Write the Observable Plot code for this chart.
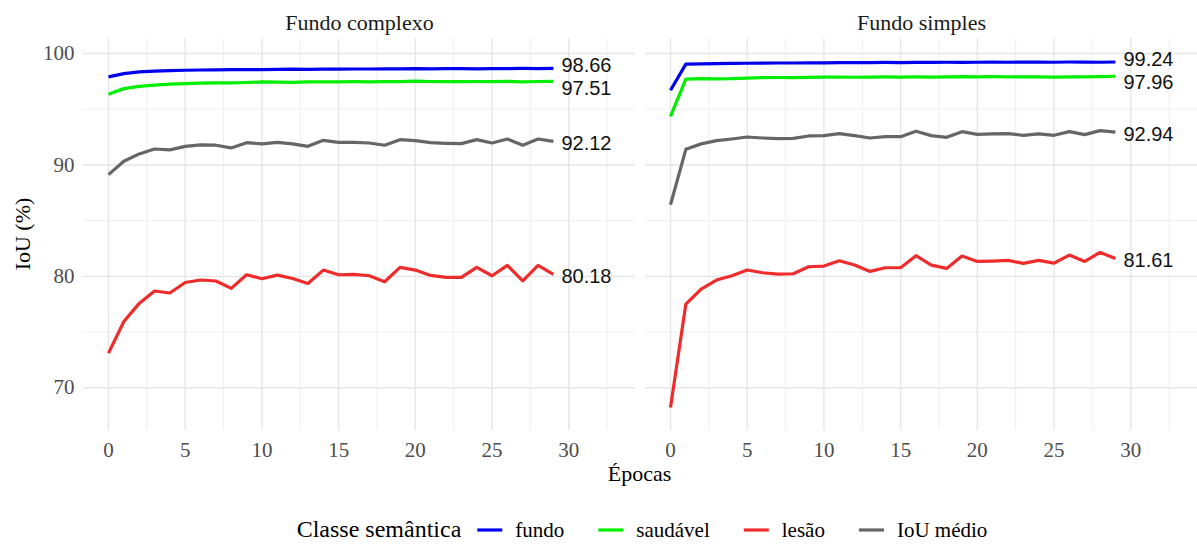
<!DOCTYPE html>
<html>
<head>
<meta charset="utf-8">
<script src="https://cdn.jsdelivr.net/npm/d3@7"></script>
<script src="https://cdn.jsdelivr.net/npm/@observablehq/plot@0.6"></script>
<style>
  html, body { margin: 0; padding: 0; background: #ffffff; }
  #wrap { position: relative; width: 1197px; height: 546px; overflow: hidden; }
  #chart svg, #legend svg { display: block; }
</style>
</head>
<body>
<div id="wrap">
  <div id="chart"></div>
  <div id="legend"></div>
</div>
<script>
// ---- Data ----
const panels = ["Fundo complexo", "Fundo simples"];
const classes = ["fundo", "saudável", "lesão", "IoU médio"];
const classColors = ["#0000ee", "#00ee00", "#ee2c2c", "#666666"];
const legendTitle = "Classe semântica";
const xTitle = "Épocas";
const yTitle = "IoU (%)";
const epochs = [0,1,2,3,4,5,6,7,8,9,10,11,12,13,14,15,16,17,18,19,20,21,22,23,24,25,26,27,28,29];

const complexoFundo = [97.90,98.20,98.35,98.42,98.46,98.50,98.52,98.53,98.55,98.55,98.56,98.57,98.60,98.58,98.60,98.60,98.61,98.61,98.62,98.63,98.65,98.62,98.64,98.65,98.63,98.64,98.65,98.66,98.65,98.66];
const complexoSaudavel = [96.35,96.85,97.05,97.17,97.25,97.30,97.35,97.37,97.36,97.40,97.45,97.43,97.42,97.45,97.46,97.45,97.47,97.46,97.48,97.47,97.52,97.49,97.48,97.48,97.49,97.47,97.50,97.46,97.49,97.51];
const complexoLesao = [73.11,75.95,77.57,78.68,78.50,79.45,79.67,79.58,78.92,80.14,79.78,80.11,79.81,79.36,80.56,80.14,80.17,80.05,79.51,80.80,80.56,80.08,79.90,79.90,80.80,80.05,80.98,79.60,80.98,80.18];
const complexoMedio = [89.13,90.33,90.99,91.43,91.35,91.67,91.80,91.77,91.53,92.00,91.89,92.03,91.89,91.67,92.21,92.03,92.03,91.97,91.77,92.27,92.18,92.00,91.94,91.91,92.27,91.97,92.33,91.77,92.33,92.12];

const simplesFundo = [96.70,99.05,99.08,99.10,99.12,99.13,99.14,99.15,99.15,99.16,99.17,99.18,99.18,99.19,99.20,99.19,99.21,99.20,99.22,99.21,99.22,99.23,99.22,99.23,99.23,99.22,99.24,99.23,99.22,99.24];
const simplesSaudavel = [94.35,97.70,97.75,97.72,97.74,97.80,97.83,97.85,97.84,97.86,97.88,97.89,97.87,97.88,97.90,97.89,97.90,97.88,97.91,97.93,97.91,97.92,97.91,97.90,97.91,97.89,97.90,97.91,97.92,97.96];
const simplesLesao = [68.22,77.51,78.86,79.67,80.05,80.57,80.32,80.20,80.23,80.86,80.92,81.40,81.01,80.44,80.77,80.77,81.85,81.01,80.71,81.82,81.34,81.37,81.43,81.16,81.43,81.19,81.91,81.34,82.15,81.61];
const simplesMedio = [86.43,91.40,91.89,92.18,92.33,92.51,92.42,92.36,92.39,92.60,92.63,92.81,92.63,92.42,92.54,92.54,93.02,92.63,92.48,92.99,92.75,92.78,92.81,92.66,92.78,92.66,92.99,92.72,93.08,92.94];

const majorX = [0,5,10,15,20,25,30];
const minorX = [2.5,7.5,12.5,17.5,22.5,27.5,32.5];
const majorY = [70,80,90,100];
const minorY = [75,85,95];

// ---- Build table ----
const seriesByPanel = [
  [complexoFundo, complexoSaudavel, complexoLesao, complexoMedio],
  [simplesFundo, simplesSaudavel, simplesLesao, simplesMedio]
];
const rows = [];
const labels = [];
panels.forEach((p, pi) => {
  classes.forEach((c, ci) => {
    const vals = seriesByPanel[pi][ci];
    epochs.forEach((e, i) => rows.push({panel: p, classe: c, epoch: e, value: vals[i]}));
    const last = vals[vals.length - 1];
    labels.push({panel: p, classe: c, epoch: epochs[epochs.length - 1], value: last, ly: last, text: last.toFixed(2)});
  });
});

// simple vertical repel of end labels (in data units)
const yDomain = [66.16, 101.35];
const plotTop = 38, plotBottom = 430;
const pxPerUnit = (plotBottom - plotTop) / (yDomain[1] - yDomain[0]);
const minGap = 23 / pxPerUnit;
panels.forEach(p => {
  const ls = labels.filter(d => d.panel === p).sort((a, b) => b.ly - a.ly);
  for (let iter = 0; iter < 20; iter++) {
    for (let i = 1; i < ls.length; i++) {
      const d = ls[i - 1].ly - ls[i].ly;
      if (d < minGap) {
        const push = (minGap - d) / 2;
        ls[i - 1].ly += push;
        ls[i].ly -= push;
      }
    }
  }
});

const serif = "Liberation Serif, DejaVu Serif, serif";
const sans = "Liberation Sans, Arial, DejaVu Sans, sans-serif";

const chart = Plot.plot({
  width: 1197,
  height: 490,
  marginLeft: 82,
  marginRight: 0,
  marginTop: plotTop,
  marginBottom: 490 - plotBottom,
  style: {fontFamily: serif, background: "#ffffff", overflow: "visible"},
  fx: {domain: panels, paddingInner: 0.0178, paddingOuter: 0, label: null},
  x: {domain: [-1.63, 34.35]},
  y: {domain: yDomain},
  color: {domain: classes, range: classColors},
  marks: [
    Plot.gridX(minorX, {stroke: "#ebebeb", strokeOpacity: 1, strokeWidth: 0.8}),
    Plot.gridY(minorY, {stroke: "#ebebeb", strokeOpacity: 1, strokeWidth: 0.8}),
    Plot.gridX(majorX, {stroke: "#e6e6e6", strokeOpacity: 1, strokeWidth: 1.4}),
    Plot.gridY(majorY, {stroke: "#e6e6e6", strokeOpacity: 1, strokeWidth: 1.4}),
    Plot.axisX(majorX, {tickSize: 0, tickPadding: 12, fontSize: 21, fill: "#4d4d4d", label: null}),
    Plot.axisY(majorY, {tickSize: 0, tickPadding: 9, fontSize: 21, fill: "#4d4d4d", label: null}),
    Plot.axisFx({anchor: "top", tickSize: 0, tickPadding: 9, fontSize: 22, fill: "#1a1a1a", label: null}),
    Plot.line(rows, {x: "epoch", y: "value", z: "classe", stroke: "classe", fx: "panel",
      strokeWidth: 3.2, strokeLinejoin: "round", strokeLinecap: "butt"}),
    Plot.text(labels, {x: "epoch", y: "ly", fx: "panel", text: "text", textAnchor: "start",
      lineAnchor: "middle", dx: 8, dy: 2, fontSize: 20, fontFamily: sans, fill: "#111111"})
  ]
});
document.getElementById("chart").appendChild(chart);

// axis titles
const svg = d3.select(chart);
svg.append("text")
  .attr("x", (82 + 1197) / 2).attr("y", 481)
  .attr("text-anchor", "middle")
  .attr("font-family", serif).attr("font-size", 22).attr("fill", "#000")
  .text(xTitle);
svg.append("text")
  .attr("transform", `translate(30,${(plotTop + plotBottom) / 2}) rotate(-90)`)
  .attr("text-anchor", "middle")
  .attr("font-family", serif).attr("font-size", 22).attr("fill", "#000")
  .text(yTitle);

// legend (SVG, below the chart)
const lsvg = d3.select("#legend").append("svg")
  .attr("width", 1197).attr("height", 56)
  .attr("font-family", serif);
const g = lsvg.append("g");
const baseY = 47, keyY = 40;
let cx = 0;
const t = g.append("text").attr("x", cx).attr("y", baseY).attr("font-size", 24).attr("fill", "#000").text(legendTitle);
cx += t.node().getComputedTextLength() + 16;
classes.forEach((c, i) => {
  g.append("line").attr("x1", cx).attr("x2", cx + 25).attr("y1", keyY).attr("y2", keyY)
    .attr("stroke", classColors[i]).attr("stroke-width", 3.2);
  cx += 25 + 13;
  const tt = g.append("text").attr("x", cx).attr("y", baseY).attr("font-size", 21).attr("fill", "#000").text(c);
  cx += tt.node().getComputedTextLength();
  if (i < classes.length - 1) cx += 34;
});
g.attr("transform", `translate(${642 - cx / 2},0)`);
</script>
</body>
</html>
